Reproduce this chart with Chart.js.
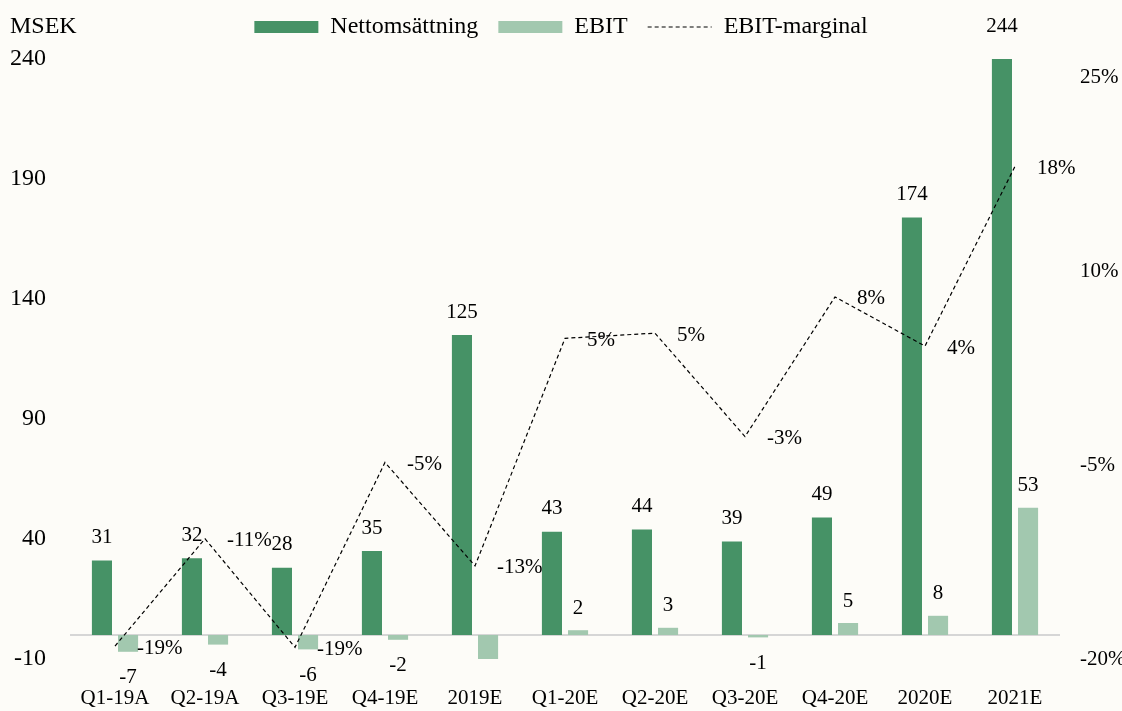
<!DOCTYPE html>
<html>
<head>
<meta charset="utf-8">
<script src="https://cdn.jsdelivr.net/npm/chart.js@4.4.1/dist/chart.umd.min.js"></script>
<style>
  html, body { margin: 0; padding: 0; background: #FDFCF8; }
  #wrap { width: 1122px; height: 711px; }
</style>
</head>
<body>
<div id="wrap"><canvas id="chart" width="1122" height="711"></canvas></div>
<script>
// chart data
var categories = ['Q1-19A', 'Q2-19A', 'Q3-19E', 'Q4-19E', '2019E', 'Q1-20E', 'Q2-20E', 'Q3-20E', 'Q4-20E', '2020E', '2021E']
var netSales = [31, 32, 28, 35, 125, 43, 44, 39, 49, 174, 244]
var ebit = [-7, -4, -6, -2, -11, 2, 3, -1, 5, 8, 53]
var ebitMargin = [-19.0, -10.7, -19.1, -4.8, -12.8, 4.8, 5.2, -2.8, 8.0, 4.2, 18.1]
var ebitNoLabel = ['2019E']   // no value printed under this bar in the original
var leftTicks = [-10, 40, 90, 140, 190, 240]
var rightTicks = [-20, -5, 10, 25]

var GREEN = '#469266'
var LIGHT_GREEN = '#A2C8AF'
var BG = '#FDFCF8'
var SERIF = '"Liberation Serif", "Times New Roman", serif'

// background + MSEK + zero line, and pull the legend up a bit
var decoPlugin = {
    id: 'deco',
    afterLayout: function(chart) {
        var lg = chart.legend
        if (lg) {
            var h = lg.height
            lg.top = -5
            lg.bottom = lg.top + h
        }
    },
    beforeDraw: function(chart) {
        var ctx = chart.ctx
        ctx.save()
        ctx.fillStyle = BG
        ctx.fillRect(0, 0, chart.width, chart.height)
        ctx.fillStyle = '#000'
        ctx.font = '24px ' + SERIF
        ctx.textAlign = 'left'
        ctx.textBaseline = 'middle'
        ctx.fillText('MSEK', 10, 27)
        ctx.restore()
    },
    beforeDatasetsDraw: function(chart) {
        var ctx = chart.ctx
        var area = chart.chartArea
        var y0 = chart.scales.y.getPixelForValue(0)
        ctx.save()
        ctx.strokeStyle = '#D6D6D6'
        ctx.lineWidth = 2
        ctx.beginPath()
        ctx.moveTo(area.left, y0)
        ctx.lineTo(area.right, y0)
        ctx.stroke()
        ctx.restore()
    }
}

// value labels
var labelPlugin = {
    id: 'valueLabels',
    afterDatasetsDraw: function(chart) {
        var ctx = chart.ctx
        ctx.save()
        ctx.fillStyle = '#000'
        ctx.font = '21px ' + SERIF
        ctx.textBaseline = 'middle'

        var nsMeta = chart.getDatasetMeta(1)
        ctx.textAlign = 'center'
        for (var i = 0; i < nsMeta.data.length; i++) {
            var bar = nsMeta.data[i]
            ctx.fillText(String(netSales[i]), bar.x, bar.y - 23)
        }

        var ebitMeta = chart.getDatasetMeta(2)
        for (var i = 0; i < ebitMeta.data.length; i++) {
            if (ebitNoLabel.indexOf(categories[i]) >= 0) continue
            var bar = ebitMeta.data[i]
            if (ebit[i] >= 0) ctx.fillText(String(ebit[i]), bar.x, bar.y - 22)
            else ctx.fillText(String(ebit[i]), bar.x, bar.y + 26)
        }

        var lineMeta = chart.getDatasetMeta(0)
        ctx.textAlign = 'left'
        for (var i = 0; i < lineMeta.data.length; i++) {
            var pt = lineMeta.data[i]
            ctx.fillText(Math.round(ebitMargin[i]) + '%', pt.x + 22, pt.y + 2)
        }
        ctx.restore()
    }
}

var data = {
    labels: categories,
    datasets: [
        {
            type: 'line',
            label: 'EBIT-marginal',
            data: ebitMargin,
            yAxisID: 'y1',
            borderColor: '#000',
            backgroundColor: 'rgba(0,0,0,0)',
            borderWidth: 1.2,
            borderDash: [4, 3],
            pointRadius: 0,
            tension: 0,
            order: 0
        },
        {
            type: 'bar',
            label: 'Nettomsättning',
            data: netSales,
            yAxisID: 'y',
            backgroundColor: GREEN,
            barPercentage: 0.77,
            categoryPercentage: 0.58,
            order: 1
        },
        {
            type: 'bar',
            label: 'EBIT',
            data: ebit,
            yAxisID: 'y',
            backgroundColor: LIGHT_GREEN,
            barPercentage: 0.77,
            categoryPercentage: 0.58,
            order: 1
        }
    ]
}

var options = {
    responsive: false,
    devicePixelRatio: 1,
    animation: false,
    layout: { padding: { top: 0, left: 0, right: 0, bottom: 0 } },
    scales: {
        x: {
            grid: { display: false, drawTicks: false },
            border: { display: false },
            afterFit: function(scale) { scale.height = 52 },
            ticks: { color: '#000', font: { family: SERIF, size: 21 }, padding: 27, maxRotation: 0 }
        },
        y: {
            position: 'left',
            min: -10,
            max: 240,
            grid: { display: false, drawTicks: false },
            border: { display: false },
            afterBuildTicks: function(scale) {
                scale.ticks = leftTicks.map(function(v) { return { value: v } })
            },
            afterFit: function(scale) {
                scale.width = 70
                scale.paddingTop = 59
            },
            ticks: { color: '#000', font: { family: SERIF, size: 24 }, padding: 24 }
        },
        y1: {
            position: 'right',
            min: -20,
            max: 26.4,
            grid: { display: false, drawTicks: false },
            border: { display: false },
            afterBuildTicks: function(scale) {
                scale.ticks = rightTicks.map(function(v) { return { value: v } })
            },
            afterFit: function(scale) { scale.width = 62 },
            ticks: {
                color: '#000',
                font: { family: SERIF, size: 21 },
                padding: 20,
                crossAlign: 'near',
                callback: function(v) { return v + '%' }
            }
        }
    },
    plugins: {
        legend: {
            display: true,
            position: 'top',
            labels: {
                color: '#000',
                font: { family: SERIF, size: 24 },
                usePointStyle: true,
                pointStyleWidth: 64,
                boxHeight: 12,
                padding: 20,
                generateLabels: function(chart) {
                    var items = Chart.defaults.plugins.legend.labels.generateLabels(chart)
                    items.forEach(function(item) {
                        if (item.datasetIndex == 0) {
                            item.pointStyle = 'line'
                            item.lineDash = [4, 3]
                            item.lineWidth = 1.2
                            item.strokeStyle = '#000'
                        } else {
                            item.pointStyle = 'rect'
                            item.lineWidth = 0
                        }
                    })
                    // bars first, then the line
                    items.sort(function(a, b) { return (a.datasetIndex || 3) - (b.datasetIndex || 3) })
                    return items
                }
            }
        },
        tooltip: { enabled: false }
    }
}

new Chart(document.getElementById('chart'), {
    type: 'bar',
    data: data,
    options: options,
    plugins: [decoPlugin, labelPlugin]
})
</script>
</body>
</html>
